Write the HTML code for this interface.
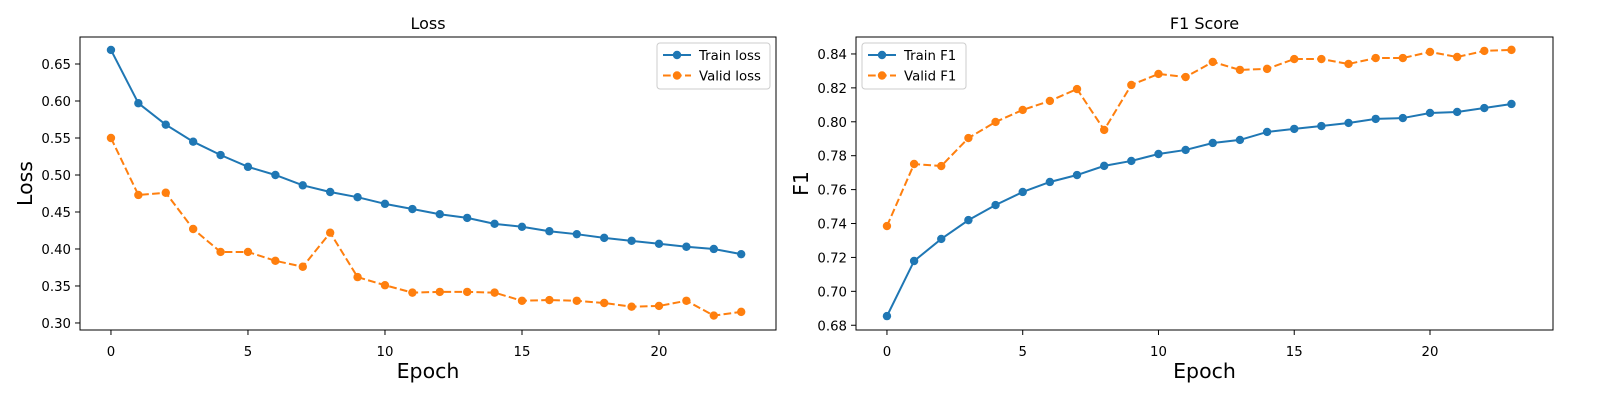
<!DOCTYPE html>
<html><head><meta charset="utf-8"><style>
html,body{margin:0;padding:0;background:#fff;overflow:hidden}
svg{display:block;font-family:"DejaVu Sans","Liberation Sans",sans-serif}
</style></head><body>
<svg id="c" width="1600" height="400"></svg>
<script>
const epochs = [0,1,2,3,4,5,6,7,8,9,10,11,12,13,14,15,16,17,18,19,20,21,22,23];
const trainLoss = [0.669,0.597,0.568,0.545,0.527,0.511,0.500,0.486,0.477,0.470,0.461,0.454,0.447,0.442,0.434,0.430,0.424,0.420,0.415,0.411,0.407,0.403,0.400,0.393];
const validLoss = [0.550,0.473,0.476,0.427,0.396,0.396,0.384,0.376,0.422,0.362,0.351,0.341,0.342,0.342,0.341,0.330,0.331,0.330,0.327,0.322,0.323,0.330,0.310,0.315];
const trainF1 = [0.6854,0.7179,0.7309,0.742,0.7509,0.7586,0.7645,0.7686,0.774,0.7769,0.781,0.7834,0.7875,0.7893,0.794,0.7958,0.7975,0.7993,0.8017,0.8022,0.8052,0.8058,0.8081,0.8105];
const validF1 = [0.7385,0.7751,0.7739,0.7904,0.7999,0.807,0.8123,0.8193,0.7952,0.8217,0.8282,0.8264,0.8353,0.8306,0.8312,0.837,0.837,0.8341,0.8376,0.8376,0.8412,0.8382,0.8418,0.8424];
const xTicks = [0,5,10,15,20];
const lossTicks = [0.30,0.35,0.40,0.45,0.50,0.55,0.60,0.65];
const f1Ticks = [0.68,0.70,0.72,0.74,0.76,0.78,0.80,0.82,0.84];

const NS="http://www.w3.org/2000/svg";
const svg=document.getElementById('c');
function mk(tag,attrs,parent){const e=document.createElementNS(NS,tag);for(const k in attrs)e.setAttribute(k,attrs[k]);(parent||svg).appendChild(e);return e;}

function panel(o){
  const g=mk('g',{});
  
  
  const X=v=>o.x0+(v-o.xmin)/(o.xmax-o.xmin)*(o.x1-o.x0);
  const Y=v=>o.y1-(v-o.ymin)/(o.ymax-o.ymin)*(o.y1-o.y0);
  xTicks.forEach(t=>{
    mk('line',{x1:X(t),x2:X(t),y1:o.y1,y2:o.y1+5,stroke:'#000','stroke-width':1},g);
    const tx=mk('text',{x:X(t),y:o.y1+26,'text-anchor':'middle','font-size':13.3},g);tx.textContent=t;
    
    
  });
  o.yticks.forEach(t=>{
    mk('line',{x1:o.x0-5,x2:o.x0,y1:Y(t),y2:Y(t),stroke:'#000','stroke-width':1},g);
    const tx=mk('text',{x:o.x0-9,y:Y(t)+5,'text-anchor':'end','font-size':13.3},g);tx.textContent=t.toFixed(2);
    
    
  });
  o.series.forEach(s=>{
    const pts=epochs.map((e,i)=>X(e)+','+Y(s.data[i])).join(' ');
    const pl=mk('polyline',{points:pts,fill:'none',stroke:s.color,'stroke-width':2,'stroke-dasharray':s.dash?'7.7,3.3':'none'},g);
    
    
    epochs.forEach((e,i)=>{
      const c=mk('circle',{cx:X(e),cy:Y(s.data[i]),r:4.2,fill:s.color},g);
      
      
    });
  });
  mk('rect',{x:o.x0,y:o.y0,width:o.x1-o.x0,height:o.y1-o.y0,fill:'none',stroke:'#000','stroke-width':1},g);
  const ti=mk('text',{x:(o.x0+o.x1)/2,y:o.y0-8,'text-anchor':'middle','font-size':16},g);ti.textContent=o.title;
  
  
  const xl=mk('text',{x:(o.x0+o.x1)/2,y:378,'text-anchor':'middle','font-size':20.5},g);xl.textContent='Epoch';
  
  
  const yx=o.ylx, yy=(o.y0+o.y1)/2;
  const yl=mk('text',{x:yx,y:yy,'text-anchor':'middle','font-size':20.5,transform:`rotate(-90 ${yx} ${yy})`},g);yl.textContent=o.ylabel;
  
  
  const lg=mk('g',{},g);
  
  
  mk('rect',{x:o.lx,y:o.ly,width:o.lw,height:46,rx:3,fill:'#fff','fill-opacity':0.8,stroke:'#ccc','stroke-width':1},lg);
  o.series.forEach((s,i)=>{
    const cy=o.ly+12+i*20.5;
    mk('line',{x1:o.lx+6,x2:o.lx+34,y1:cy,y2:cy,stroke:s.color,'stroke-width':2,'stroke-dasharray':s.dash?'7.7,3.3':'none'},lg);
    mk('circle',{cx:o.lx+20,cy:cy,r:4.2,fill:s.color},lg);
    const t=mk('text',{x:o.lx+42,y:cy+5,'font-size':13.3},lg);t.textContent=s.label;
    
    
  });
}
panel({name:'loss-chart',title:'Loss',ylabel:'Loss',ylx:32,x0:80,x1:776,y0:37,y1:330,xmin:-1.13,xmax:24.27,ymin:0.2905,ymax:0.6865,yticks:lossTicks,lx:657,ly:43,lw:113,
  series:[{key:'train-loss',label:'Train loss',data:trainLoss,color:'#1f77b4',dash:false},{key:'valid-loss',label:'Valid loss',data:validLoss,color:'#ff7f0e',dash:true}]});
panel({name:'f1-chart',title:'F1 Score',ylabel:'F1',ylx:808,x0:856,x1:1553,y0:37,y1:330,xmin:-1.14,xmax:24.53,ymin:0.6772,ymax:0.850,yticks:f1Ticks,lx:862,ly:43,lw:104,
  series:[{key:'train-f1',label:'Train F1',data:trainF1,color:'#1f77b4',dash:false},{key:'valid-f1',label:'Valid F1',data:validF1,color:'#ff7f0e',dash:true}]});
</script>
</body></html>
